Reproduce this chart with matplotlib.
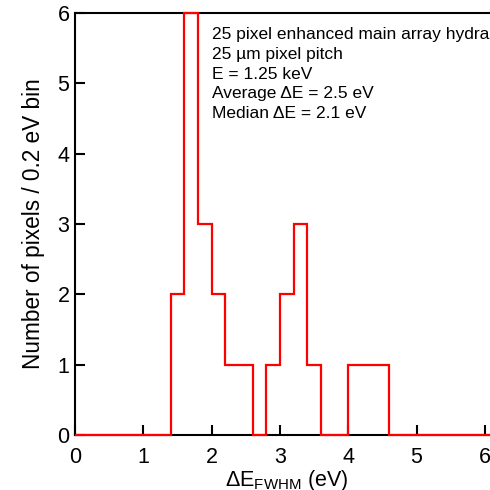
import matplotlib
matplotlib.use("Agg")
import matplotlib.pyplot as plt
import numpy as np

plt.rcParams['font.family'] = ['Liberation Sans', 'DejaVu Sans']
plt.rcParams['mathtext.fontset'] = 'custom'
plt.rcParams['mathtext.rm'] = 'Liberation Sans'
plt.rcParams['mathtext.it'] = 'Liberation Sans:italic'

bin_width = 0.2
bin_start = 0.0
counts = [0, 0, 0, 0, 0, 0, 0, 2, 6, 3, 2, 1, 1, 0, 1, 2, 3, 1, 0, 0,
          1, 1, 1, 0, 0, 0, 0, 0, 0, 0, 0, 0]
edges = bin_start + bin_width * np.arange(len(counts) + 1)

x_ticks = [0, 1, 2, 3, 4, 5, 6]
y_ticks = [0, 1, 2, 3, 4, 5, 6]

annotation_lines = [
    "25 pixel enhanced main array hydra",
    "25 \u00b5m pixel pitch",
    "E = 1.25 keV",
    "Average \u0394E = 2.5 eV",
    "Median \u0394E = 2.1 eV",
]

fig = plt.figure(figsize=(4.9, 4.9), dpi=100)
ax = fig.add_axes([75/490, 55/490, 6.2*68.3/490, 422/490])

ax.stairs(counts, edges, color='#ff0000', linewidth=1.6, zorder=5, clip_on=False)

ax.set_xlim(0, 6.2)
ax.set_ylim(0, 6)
ax.set_xticks(x_ticks)
ax.set_yticks(y_ticks)
ax.tick_params(direction='in', length=7, width=1.5, labelsize=15.5,
               top=False, right=False)
ax.tick_params(axis='x', pad=8.5)
ax.tick_params(axis='y', pad=4)
for s in ['left', 'bottom', 'top', 'right']:
    ax.spines[s].set_linewidth(1.5)

ax.set_xlabel(r"$\Delta$E$_{\rm FWHM}$ (eV)", fontsize=15.5, labelpad=0)
ax.set_ylabel("Number of pixels / 0.2 eV bin", fontsize=16.3, labelpad=9)

ax.text(2.0, 5.80, "\n".join(annotation_lines), fontsize=12.5, va='top', ha='left',
        linespacing=1.40, transform=ax.transData)

fig.savefig("out.png", dpi=100)
